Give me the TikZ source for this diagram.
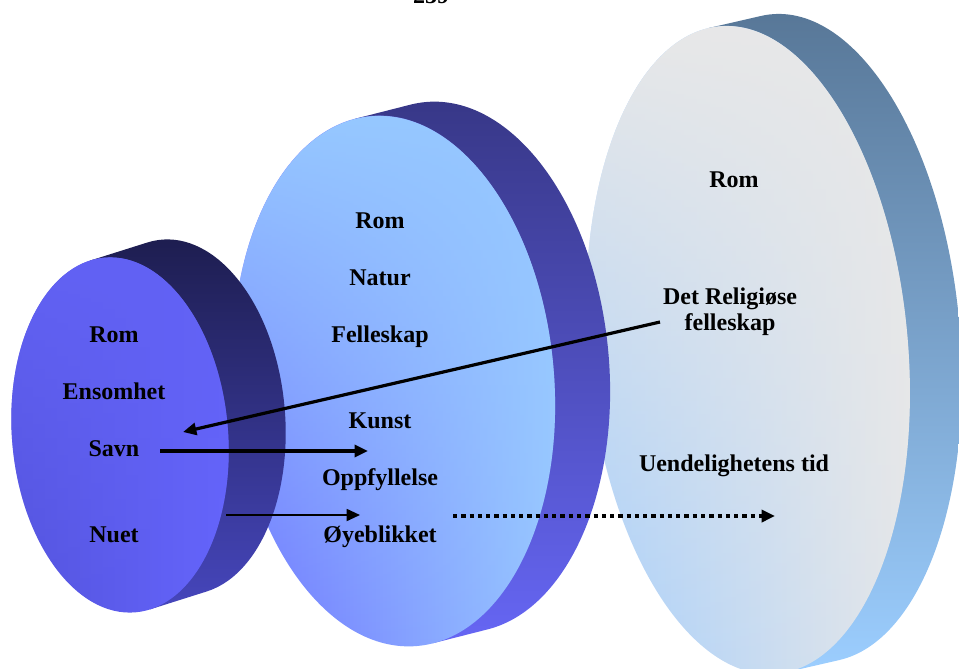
\documentclass[tikz,border=0pt]{standalone}
\usepackage{fontspec}
\setmainfont{Liberation Serif}
\usepackage{xcolor}
\usetikzlibrary{arrows.meta}
\usetikzlibrary{positioning}
\usetikzlibrary{fadings}

\definecolor{sideAtop}{HTML}{1C1C4C}
\definecolor{sideAmid}{HTML}{27276C}
\definecolor{sideAbot}{HTML}{4646BC}
\definecolor{faceAleft}{HTML}{5252DA}
\definecolor{faceAmid}{HTML}{4646B8}
\definecolor{faceAright}{HTML}{6666FF}
\definecolor{faceAtop}{HTML}{6262F4}
\definecolor{sideBtop}{HTML}{363684}
\definecolor{sideBmid}{HTML}{4646B4}
\definecolor{sideBbot}{HTML}{6666F4}
\definecolor{faceBleft}{HTML}{6C6EFF}
\definecolor{faceBmid}{HTML}{8AAEFF}
\definecolor{faceBright}{HTML}{9ACBFF}
\definecolor{faceBtop}{HTML}{96C8FF}
\definecolor{sideCtop}{HTML}{567595}
\definecolor{sideCmid}{HTML}{7298C4}
\definecolor{sideCbot}{HTML}{9CCEFF}
\definecolor{faceCleft}{HTML}{A2CDFD}
\definecolor{faceCmid}{HTML}{C9DCF2}
\definecolor{faceCright}{HTML}{E8E8E8}
\definecolor{faceCtop}{HTML}{E8E8E8}

\tikzfading[name=topfade, top color=transparent!0, middle color=transparent!55, bottom color=transparent!100]

\begin{document}
\begin{tikzpicture}[x=0.75pt,y=-0.75pt,>={Triangle[length=10pt,width=9pt]},node distance=42.75pt,
  word/.style={font=\fontsize{18}{19.5}\selectfont\bfseries,text height=12pt,text depth=0pt,inner sep=0pt},
  twoline/.style={font=\fontsize{18}{19.5}\selectfont\bfseries,align=center,inner sep=0pt}]

    \useasboundingbox (0,0) rectangle (959,668);

    % big disk (back)
    \begin{scope}[shift={(748,350)},rotate=5]
        \shade[top color=sideCtop,middle color=sideCmid,bottom color=sideCbot] (-11.0,-324.2) -- ++(52.85,-7.42)
            arc[start angle=266.05,end angle=446.05,x radius=160,y radius=325] -- (11.0,324.2) -- cycle;
        \shade[left color=faceCleft,middle color=faceCmid,right color=faceCright] (0,0) ellipse[x radius=160,y radius=325];
        \fill[faceCtop,path fading=topfade] (0,0) ellipse[x radius=160,y radius=325];
    \end{scope}

    % middle disk
    \begin{scope}[shift={(394,381)},rotate=5]
        \shade[top color=sideBtop,middle color=sideBmid,bottom color=sideBbot] (-15.6,-264.7) -- ++(56.01,-9.15)
            arc[start angle=264.4,end angle=444.4,x radius=160,y radius=266] -- (15.6,264.7) -- cycle;
        \shade[left color=faceBleft,middle color=faceBmid,right color=faceBright] (0,0) ellipse[x radius=160,y radius=266];
        \fill[faceBtop,path fading=topfade] (0,0) ellipse[x radius=160,y radius=266];
    \end{scope}

    % small disk (front)
    \begin{scope}[shift={(120,435)},rotate=5]
        \shade[top color=sideAtop,middle color=sideAmid,bottom color=sideAbot] (-14.47,-176.4) -- ++(58.35,-12.96)
            arc[start angle=262.3,end angle=442.3,x radius=108,y radius=178] -- (14.47,176.4) -- cycle;
        \shade[left color=faceAleft,middle color=faceAmid,right color=faceAright] (0,0) ellipse[x radius=108,y radius=178];
        \fill[faceAtop,path fading=topfade] (0,0) ellipse[x radius=108,y radius=178];
    \end{scope}

    \node[font=\fontsize{18}{19.5}\selectfont\bfseries,anchor=base,inner sep=0pt] (pagenum) at (431,3) {239};

    \node[word] (romA) at (114,334) {Rom};
    \node[word,on grid,below=of romA] (ensomhet) {Ensomhet};
    \node[word,on grid,below=of ensomhet] (savn) {Savn};
    \node[word,on grid,below=65pt of savn] (nuet) {Nuet};

    \node[word] (romB) at (380,220) {Rom};
    \node[word,on grid,below=of romB] (natur) {Natur};
    \node[word,on grid,below=of natur] (felleskap) {Felleskap};
    \node[word,on grid,below=64.5pt of felleskap] (kunst) {Kunst};
    \node[word,on grid,below=of kunst] (oppfyllelse) {Oppfyllelse};
    \node[word,on grid,below=of oppfyllelse] (oyeblikket) {Øyeblikket};

    \node[word] (romC) at (734,179) {Rom};
    \node[twoline] (religiose) at (730,312) {Det Religiøse\\felleskap};
    \node[word] (uendelighet) at (734,463) {Uendelighetens tid};

    \coordinate (relstart) at (660,322);
    \coordinate (savntip) at (183,432);
    \coordinate (savnstart) at (160,451);
    \coordinate (savnend) at (368,451);
    \coordinate (nuetstart) at (226,515);
    \coordinate (nuetend) at (360,515);
    \coordinate (dotstart) at (453,516);
    \coordinate (dotend) at (775,516);

    \draw[->,line width=2.4pt] (relstart) -- (savntip);
    \draw[->,line width=2.4pt] (savnstart) -- (savnend);
    \draw[->,line width=1.3pt] (nuetstart) -- (nuetend);
    \draw[->,line width=3.3pt,dash pattern=on 3.2pt off 3pt] (dotstart) -- (dotend);

\end{tikzpicture}
\end{document}
